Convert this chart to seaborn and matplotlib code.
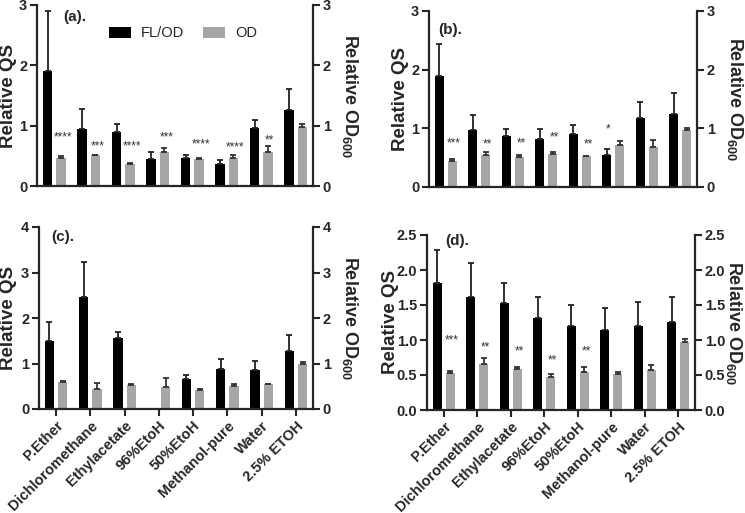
import numpy as np
import pandas as pd
import matplotlib
matplotlib.use("Agg")
import matplotlib.pyplot as plt
import seaborn as sns

# ---------------- data ----------------
categories = ["P.Ether", "Dichloromethane", "Ethylacetate", "96%EtoH",
              "50%EtoH", "Methanol-pure", "Water", "2.5% ETOH"]
series = ["FL/OD", "OD"]

a_fl = [1.91, 0.94, 0.89, 0.45, 0.47, 0.37, 0.96, 1.26]
a_fl_err = [0.99, 0.34, 0.14, 0.11, 0.05, 0.06, 0.14, 0.35]
a_od = [0.47, 0.51, 0.37, 0.56, 0.44, 0.47, 0.57, 0.97]
a_od_err = [0.02, 0.01, 0.01, 0.07, 0.02, 0.05, 0.10, 0.06]
a_fl_stars = ["", "", "", "", "", "", "", ""]
a_fl_star_y = [0, 0, 0, 0, 0, 0, 0, 0]
a_od_stars = ["****", "***", "****", "***", "****", "****", "**", ""]
a_od_star_y = [0.80, 0.65, 0.65, 0.80, 0.69, 0.64, 0.76, 0]

b_fl = [1.89, 0.97, 0.87, 0.82, 0.91, 0.54, 1.18, 1.25]
b_fl_err = [0.54, 0.25, 0.12, 0.17, 0.15, 0.10, 0.27, 0.35]
b_od = [0.45, 0.55, 0.51, 0.56, 0.52, 0.71, 0.69, 0.97]
b_od_err = [0.02, 0.05, 0.04, 0.04, 0.01, 0.07, 0.11, 0.04]
b_fl_stars = ["", "", "", "", "", "*", "", ""]
b_fl_star_y = [0, 0, 0, 0, 0, 0.98, 0, 0]
b_od_stars = ["***", "**", "**", "**", "**", "", "", ""]
b_od_star_y = [0.74, 0.72, 0.75, 0.84, 0.72, 0, 0, 0]

c_fl = [1.50, 2.46, 1.56, 0.0, 0.66, 0.88, 0.85, 1.27]
c_fl_err = [0.42, 0.77, 0.13, np.nan, 0.09, 0.21, 0.20, 0.35]
c_od = [0.60, 0.43, 0.53, 0.48, 0.41, 0.50, 0.54, 0.99]
c_od_err = [0.02, 0.15, 0.03, 0.21, 0.04, 0.05, 0.02, 0.04]
c_fl_stars = [""] * 8
c_fl_star_y = [0] * 8
c_od_stars = [""] * 8
c_od_star_y = [0] * 8

d_fl = [1.82, 1.61, 1.53, 1.32, 1.20, 1.14, 1.20, 1.26]
d_fl_err = [0.46, 0.49, 0.29, 0.29, 0.30, 0.32, 0.34, 0.35]
d_od = [0.53, 0.66, 0.58, 0.47, 0.55, 0.51, 0.57, 0.97]
d_od_err = [0.03, 0.09, 0.03, 0.04, 0.07, 0.03, 0.08, 0.05]
d_fl_stars = [""] * 8
d_fl_star_y = [0] * 8
d_od_stars = ["***", "**", "**", "**", "**", "", "", ""]
d_od_star_y = [0.99, 0.89, 0.84, 0.71, 0.83, 0, 0, 0]

panel_labels = ["(a).", "(b).", "(c).", "(d)."]
ymax = [3, 3, 4, 2.5]
ystep = [1, 1, 1, 0.5]

# ---------------- style ----------------
sns.set_style("ticks")
plt.rcParams["font.family"] = ["Liberation Sans", "DejaVu Sans"]
plt.rcParams["mathtext.fontset"] = "custom"
plt.rcParams["mathtext.rm"] = "Liberation Sans:bold"
plt.rcParams["mathtext.bf"] = "Liberation Sans:bold"
plt.rcParams["mathtext.default"] = "bf"

BLACK = "#000000"
GRAY = "#a6a6a6"

fig = plt.figure(figsize=(7.45, 5.13), dpi=100)
W, H = 745, 513
boxes = [(37, 313, 5, 186), (429, 697, 11, 187),
         (39, 313, 227, 409), (427, 695, 235, 410)]
left_lab_x = [-0.103, -0.108, -0.111, -0.138]
right_lab_x = [1.134, 1.143, 1.135, 1.146]
lab_pos = [(0.094, 0.934), (0.034, 0.892), (0.045, 0.945), (0.067, 0.966)]

panels = [
    (a_fl, a_fl_err, a_od, a_od_err, a_fl_stars, a_fl_star_y, a_od_stars, a_od_star_y),
    (b_fl, b_fl_err, b_od, b_od_err, b_fl_stars, b_fl_star_y, b_od_stars, b_od_star_y),
    (c_fl, c_fl_err, c_od, c_od_err, c_fl_stars, c_fl_star_y, c_od_stars, c_od_star_y),
    (d_fl, d_fl_err, d_od, d_od_err, d_fl_stars, d_fl_star_y, d_od_stars, d_od_star_y),
]

for i, (fl, fle, od, ode, fls, flsy, ods, odsy) in enumerate(panels):
    l, r, t, b = boxes[i]
    ax = fig.add_axes([l / W, (H - b) / H, (r - l) / W, (b - t) / H])
    df = pd.DataFrame({
        "cat": categories * 2,
        "series": [series[0]] * 8 + [series[1]] * 8,
        "val": list(fl) + list(od),
    })
    sns.barplot(data=df, x="cat", y="val", hue="series", order=categories,
                hue_order=series, palette=[BLACK, GRAY], width=0.78, gap=0.3,
                errorbar=None, linewidth=0, ax=ax, legend=(i == 0))
    errs = [fle, ode]
    stars = [(fls, flsy), (ods, odsy)]
    ecols = ["#222222", "#333333"]
    bar_conts = list(ax.containers)[:2]
    for k, cont in enumerate(bar_conts):
        vals = [fl, od][k]
        for j, patch in enumerate(cont.patches):
            xc = patch.get_x() + patch.get_width() / 2
            e = errs[k][j]
            if not np.isnan(e) and vals[j] > 0:
                ax.errorbar(xc, vals[j], yerr=[[0], [e]], fmt="none",
                            ecolor=ecols[k], elinewidth=1.3, capsize=2.5,
                            capthick=1.3, zorder=1)
            txt, yy = stars[k][0][j], stars[k][1][j]
            if txt:
                ax.text(xc + 0.05, yy, txt, ha="center", va="center",
                        fontsize=8.5, color="#333333")
    ax.set_xlim(-0.5, 7.5)
    ax.set_ylim(0, ymax[i])
    yt = np.arange(0, ymax[i] + 1e-9, ystep[i])
    ax.set_yticks(yt)
    fmt = "{:.1f}" if ystep[i] < 1 else "{:.0f}"
    ax.set_yticklabels([fmt.format(v) for v in yt], fontsize=10.5,
                       fontweight="bold")
    ax.set_ylabel("Relative QS", fontsize=13.5, fontweight="bold",
                  va="center", ha="center")
    ax.yaxis.set_label_coords(left_lab_x[i], 0.5)
    ax.set_xlabel("")
    ax.set_xticks(range(8))
    if i < 2:
        ax.set_xticklabels([])
        ax.tick_params(axis="x", length=0)
    else:
        ax.set_xticklabels(categories, rotation=45, ha="right", va="top",
                           rotation_mode="anchor", fontsize=10.5,
                           fontweight="bold")
        ax.tick_params(axis="x", length=5, width=1.5, direction="out", pad=2)
    ax.tick_params(axis="y", length=5, width=1.5, direction="out", pad=2)
    for s in ["left", "bottom", "right"]:
        ax.spines[s].set_linewidth(1.6)
    ax.spines["top"].set_visible(False)
    ax.spines["right"].set_visible(False)

    ax2 = ax.twinx()
    ax2.set_ylim(0, ymax[i])
    ax2.set_yticks(yt)
    ax2.set_yticklabels([fmt.format(v) for v in yt], fontsize=10.5,
                        fontweight="bold")
    ax2.tick_params(axis="y", length=5, width=1.5, direction="out", pad=2)
    ax2.spines["right"].set_linewidth(1.6)
    for s in ["top", "left", "bottom"]:
        ax2.spines[s].set_visible(False)
    ax2.set_ylabel(r"Relative OD$_{600}$", fontsize=13, fontweight="bold",
                   rotation=270, va="center", ha="center")
    ax2.yaxis.set_label_coords(right_lab_x[i], 0.5)

    ax.text(lab_pos[i][0], lab_pos[i][1], panel_labels[i], transform=ax.transAxes,
            fontsize=11, fontweight="bold", va="center", ha="left")

    if i == 0:
        ax.legend(loc="upper center", bbox_to_anchor=(0.53, 0.955),
                  ncol=2, frameon=False, fontsize=10.5,
                  handlelength=1.5, handleheight=0.75,
                  columnspacing=1.3, handletextpad=0.7)

fig.savefig("out.png", dpi=100)
